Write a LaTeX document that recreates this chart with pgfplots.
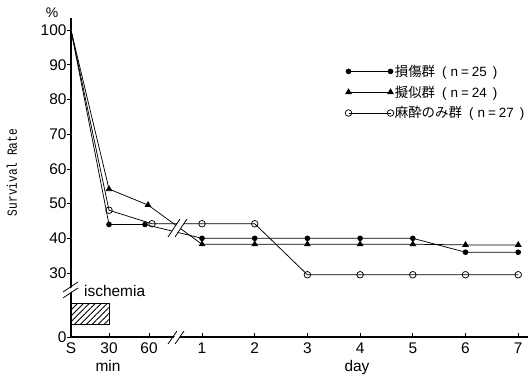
\documentclass[border=0pt]{standalone}
\usepackage{pgfplots}
\pgfplotsset{compat=1.18}
\usetikzlibrary{patterns.meta}
\usepackage{fontspec}
\setmainfont{Liberation Sans}
\newfontfamily\cjk{Noto Sans CJK JP}
\newfontfamily\mono{Liberation Mono}
\begin{document}
\begin{tikzpicture}[x=1bp,y=1bp]
\path[use as bounding box] (0,0) rectangle (530,375);
\begin{axis}[
  at={(71bp,38bp)}, anchor=south west,
  scale only axis, width=457bp, height=319bp,
  xmin=0, xmax=457, ymin=11.56, ymax=103.5,
  axis lines=left, axis line style={-, line width=1.1pt},
  xtick={0,38,78,131,183.7,236.4,289.1,341.8,394.5,447.2},
  xticklabels={S,30,60,1,2,3,4,5,6,7},
  ytick={11.56,30,40,50,60,70,80,90,100},
  yticklabels={0,30,40,50,60,70,80,90,100},
  tick align=inside, major tick length=4bp,
  tick style={black, line width=0.8pt},
  y tick style={xshift=-4bp},
  ticklabel style={font=\fontsize{15.5}{18}\selectfont},
  yticklabel style={inner sep=0pt, xshift=-4.3bp},
  xticklabel style={inner sep=0pt, yshift=-5.5bp, text height=11bp, text depth=0pt},
  clip=false,
  legend style={at={(axis cs:274,90.3)}, anchor=north west, draw=none, fill=none,
    inner sep=0pt, row sep=6bp, font=\fontsize{13.5}{15}\selectfont,
    nodes={inner sep=1bp}},
  legend cell align=left,
  legend image code/.code={\draw[#1, mark indices={1,3}] plot coordinates {(0bp,0bp) (21bp,0bp) (42bp,0bp)};},
]
\addplot[black, line width=0.75pt, mark=*, mark size=2.4bp, mark indices={2,3,4,5,6,7,8,9,10}] coordinates {
 (0,100) (38,44) (74,44) (131,40) (183.7,40) (236.4,40) (289.1,40) (341.8,40) (394.5,36) (447.2,36)};
\addlegendentry{{\cjk 損傷群}\hspace{7bp}(\hspace{4bp}n\hspace{3bp}=\hspace{3bp}25\hspace{6bp})}
\addplot[black, line width=0.75pt, mark=triangle*, mark size=3.2bp, mark indices={2,3,4,5,6,7,8,9,10}] coordinates {
 (0,100) (38,54.2) (77,49.6) (131,38.3) (183.7,38.3) (236.4,38.3) (289.1,38.3) (341.8,38.3) (394.5,38.1) (447.2,38.1)};
\addlegendentry{{\cjk 擬似群}\hspace{7bp}(\hspace{4bp}n\hspace{3bp}=\hspace{3bp}24\hspace{6bp})}
\addplot[black, line width=0.75pt, mark=o, mark size=3.3bp, mark options={fill=white}, mark indices={2,3,4,5,6,7,8,9,10}] coordinates {
 (0,100) (38,48.1) (81,44.2) (131,44.2) (183.7,44.2) (236.4,29.5) (289.1,29.5) (341.8,29.5) (394.5,29.5) (447.2,29.5)};
\addlegendentry{{\cjk 麻酔のみ群}\hspace{7bp}(\hspace{4bp}n\hspace{3bp}=\hspace{3bp}27\hspace{6bp})}
% ischemia bar
\draw[line width=0.9pt, pattern={Lines[angle=45, distance=4.2bp, line width=0.9bp]}] (axis cs:0,15.1) rectangle (axis cs:38,21.35);
\end{axis}
% break on data lines
\fill[white] (169,{375-236}) -- (175,{375-236}) -- (186,{375-220}) -- (180,{375-220}) -- cycle;
\draw[line width=0.8pt] (168,{375-237}) -- (180,{375-219});
\draw[line width=0.8pt] (175,{375-237}) -- (187,{375-219});
% break on y axis
\fill[white] (64,{375-293}) -- (78,{375-283}) -- (78,{375-287}) -- (64,{375-297}) -- cycle;
\draw[line width=0.8pt] (63,{375-292}) -- (78,{375-282});
\draw[line width=0.8pt] (63,{375-298}) -- (78,{375-288});
% break on x axis
\fill[white] (170,{375-343}) -- (175,{375-343}) -- (183,{375-332}) -- (178,{375-332}) -- cycle;
\draw[line width=0.8pt] (168,{375-344}) -- (177,{375-331});
\draw[line width=0.8pt] (175,{375-344}) -- (184,{375-331});
% texts
\node[anchor=base west, inner sep=0pt, font=\fontsize{15.5}{18}\selectfont] at (84,{375-296}) {ischemia};
\node[anchor=base, inner sep=0pt, font=\fontsize{15.5}{18}\selectfont] at (108,4) {min};
\node[anchor=base, inner sep=0pt, font=\fontsize{15.5}{18}\selectfont] at (357,4) {day};
\node[inner sep=0pt, font=\fontsize{14}{16}\selectfont] at (52,362) {\%};
\node[rotate=90, inner sep=0pt] at (12,202.5) {\scalebox{0.8}[1]{\mono\fontsize{14}{16}\selectfont Survival Rate}};
\end{tikzpicture}
\end{document}
